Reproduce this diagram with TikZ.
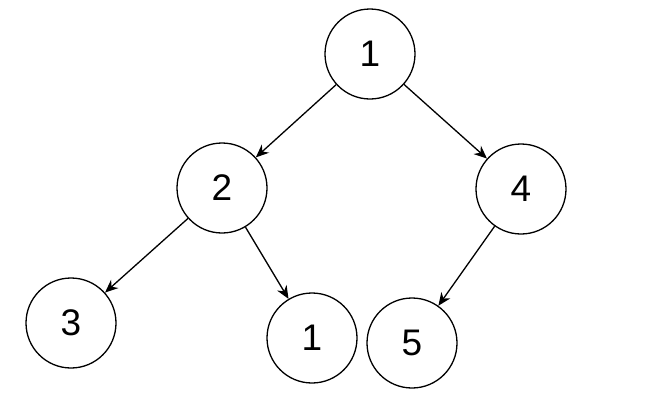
\documentclass[tikz,border=0pt]{standalone}
\usepackage{fontspec}
\setmainfont{Liberation Sans}
\usetikzlibrary{arrows.meta}
\begin{document}
\begin{tikzpicture}[x=1pt, y=-1pt, line width=1.3pt,
    every node/.style={font=\fontsize{37}{40}\selectfont},
    knot/.style={draw, circle, minimum size=90pt, inner sep=0pt},
    edge/.style={-{Stealth[length=13pt,width=11pt]}}]
        \useasboundingbox (0,0) rectangle (666,410);
        \node[knot] (root) at (370,54) {1};
        \node[knot] (two) at (222,188) {2};
        \node[knot] (four) at (521,189) {4};
        \node[knot] (three) at (71,323) {3};
        \node[knot] (one) at (312,338) {1};
        \node[knot] (five) at (412,343) {5};
        \draw[edge] (root) -- (two);
        \draw[edge] (root) -- (four);
        \draw[edge] (two) -- (three);
        \draw[edge] (two) -- (one);
        \draw[edge] (four) -- (five);
    \end{tikzpicture}
\end{document}
